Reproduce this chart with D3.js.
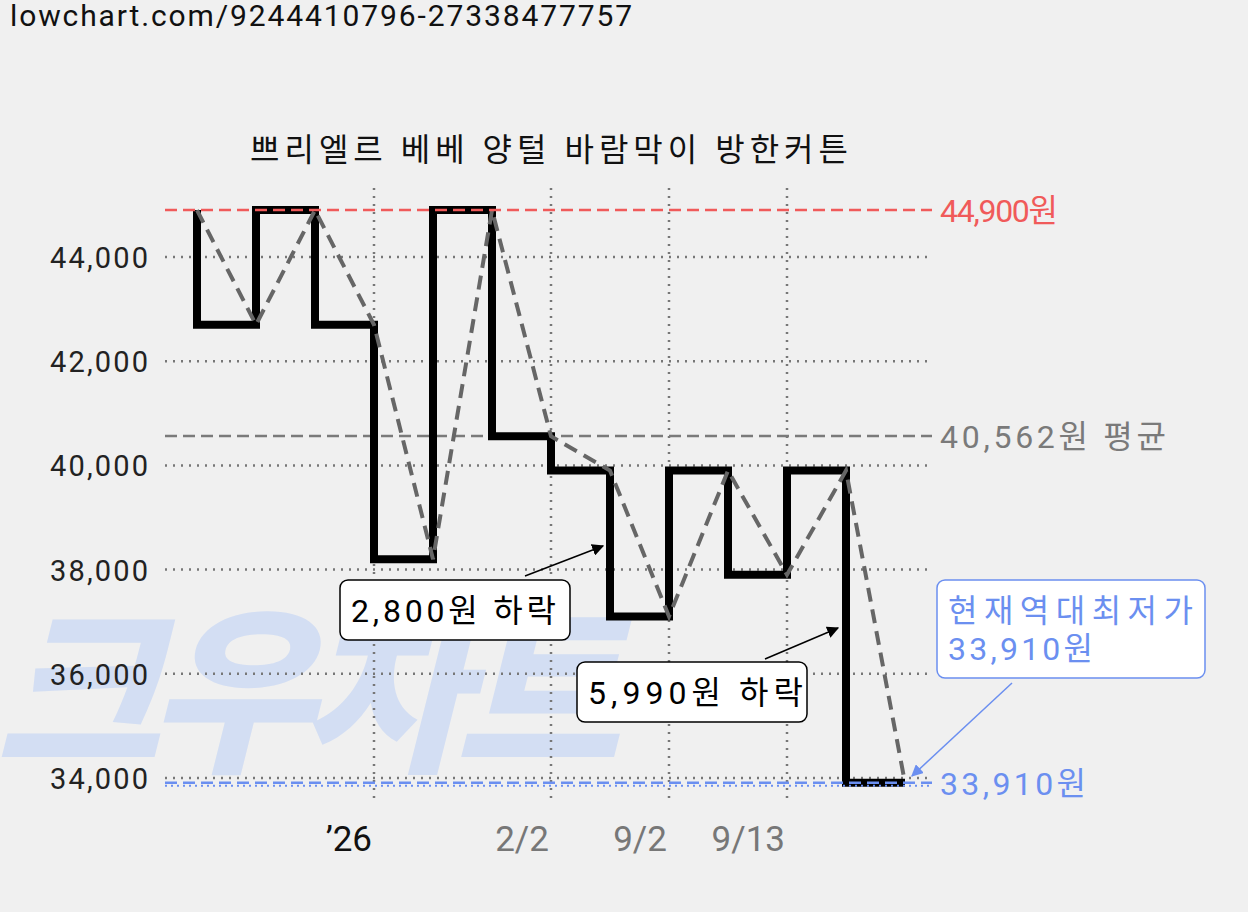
<!DOCTYPE html><html><head><meta charset="utf-8">
<script src="https://cdn.jsdelivr.net/npm/d3@7"></script>
<style>body{margin:0;background:#f0f0f0;font-family:Roboto,"Noto Sans CJK KR",sans-serif}</style></head><body>
<svg id="c" width="1248" height="912"></svg>
<script>
const prices=[44900,42700,44900,42700,38200,44900,40560,39900,37100,39900,37900,39900,33910];
const yTicks=[34000,36000,38000,40000,42000,44000];
const xTickIdx=[3,6,8,10];
const xTickLabels=["’26","2/2","9/2","9/13"];
const maxP=44900,avgP=40562,minP=33910;
const svg=d3.select("#c");
const F='Roboto,"Noto Sans CJK KR",sans-serif';
const x=d3.scaleLinear().domain([0,prices.length-1]).range([197,905]);
const y=d3.scaleLinear().domain([34000,44000]).range([778,257]);
svg.append("rect").attr("width",1248).attr("height",912).attr("fill","#f0f0f0");
svg.append("text").attr("x",10).attr("y",26).attr("font-size",30).attr("font-family",F).attr("fill","#111").attr("textLength",622).text("lowchart.com/9244410796-27338477757");
svg.append("text").attr("x",-5).attr("y",758).attr("font-size",180).attr("font-weight",900).attr("font-style","italic").attr("font-family",F).attr("fill","#d3def3").attr("textLength",625).text("크우차트");
svg.append("text").attr("x",250).attr("y",161).attr("font-size",32).attr("font-family",F).attr("fill","#111").attr("textLength",598).text("쁘리엘르 베베 양털 바람막이 방한커튼");
yTicks.forEach(v=>{
 svg.append("line").attr("x1",165).attr("x2",932).attr("y1",y(v)).attr("y2",y(v)).attr("stroke","#777").attr("stroke-width",2.5).attr("stroke-dasharray","2,6");
 svg.append("text").attr("x",148).attr("y",y(v)+11).attr("text-anchor","end").attr("font-size",29).attr("font-family",F).attr("fill","#222").attr("textLength",98).text(d3.format(",")(v));
});
xTickIdx.forEach((i,k)=>{
 svg.append("line").attr("x1",x(i)).attr("x2",x(i)).attr("y1",188).attr("y2",800).attr("stroke","#777").attr("stroke-width",2.5).attr("stroke-dasharray","2,6");
 svg.append("text").attr("x",x(i)-2).attr("y",851).attr("text-anchor","end").attr("font-size",35).attr("font-family",F).attr("fill",k==0?"#111":"#777").text(xTickLabels[k]);
});
const ref=(v,c,t,dash,len)=>{
 svg.append("line").attr("x1",165).attr("x2",932).attr("y1",y(v)).attr("y2",y(v)).attr("stroke",c).attr("stroke-width",2.5).attr("stroke-dasharray",dash);
 svg.append("text").attr("x",940).attr("y",y(v)+12).attr("font-size",32).attr("font-family",F).attr("fill",c).attr("textLength",len).text(t);
};
ref(avgP,"#7a7a7a",d3.format(",")(avgP)+"원 평균","12,6",226);
svg.append("path").datum(prices).attr("fill","none").attr("stroke","#000").attr("stroke-width",8)
 .attr("d",d3.line().x((d,i)=>x(i)).y(d=>y(d)).curve(d3.curveStepBefore));
svg.append("path").datum(prices).attr("fill","none").attr("stroke","#666").attr("stroke-width",4).attr("stroke-dasharray","14,8")
 .attr("d",d3.line().x((d,i)=>x(i)).y(d=>y(d)));
ref(maxP,"#f05a5a",d3.format(",")(maxP)+"원","12,6",118);
ref(minP,"#6b8ff0",d3.format(",")(minP)+"원","12,6",146);
svg.append("line").attr("x1",165).attr("x2",932).attr("y1",y(minP)+3).attr("y2",y(minP)+3).attr("stroke","#6b8ff0").attr("stroke-width",2).attr("stroke-dasharray","2,4");
const defs=svg.append("defs");
[["ab","#000"],["ablue","#6b8ff0"]].forEach(([id,c])=>defs.append("marker").attr("id",id).attr("viewBox","0 0 10 10").attr("refX",9).attr("refY",5).attr("markerWidth",8).attr("markerHeight",8).attr("orient","auto").append("path").attr("d","M0,0L10,5L0,10z").attr("fill",c));
function note(bx,by,w,h,lines,lens,c,ax1,ay1,ax2,ay2,mk){
 svg.append("line").attr("x1",ax1).attr("y1",ay1).attr("x2",ax2).attr("y2",ay2).attr("stroke",c).attr("stroke-width",1.5).attr("marker-end",`url(#${mk})`);
 svg.append("rect").attr("x",bx).attr("y",by).attr("width",w).attr("height",h).attr("rx",8).attr("fill","#fff").attr("stroke",c).attr("stroke-width",1.5);
 lines.forEach((t,i)=>svg.append("text").attr("x",bx+11).attr("y",by+42+i*38).attr("font-size",32).attr("font-family",F).attr("fill",c).attr("textLength",lens[i]).text(t));
}
note(340,580,230,60,["2,800원 하락"],[205],"#000",525,576,603,546,"ab");
note(577,662,230,60,["5,990원 하락"],[215],"#000",765,659,838,628,"ab");
note(937,580,268,98,["현재역대최저가","33,910원"],[245,145],"#6b8ff0",1012,683,912,776,"ablue");
</script></body></html>
